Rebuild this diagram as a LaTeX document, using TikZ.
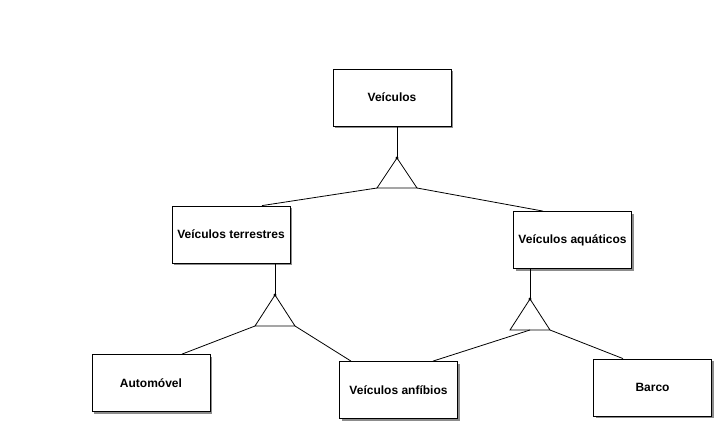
\documentclass[tikz,border=0pt]{standalone}
\usepackage{fontspec}
\setmainfont{Liberation Sans}
\usepackage{tikz}
\usetikzlibrary{calc, shadows}
\tikzset{
  entity/.style={rectangle, draw=black, fill=white, line width=0.8pt, minimum width=118pt, minimum height=57pt, text centered, font=\fontsize{12}{14}\selectfont\bfseries, drop shadow={shadow xshift=2pt, shadow yshift=-2pt, fill=black, opacity=0.45}},
  link/.style={line width=0.8pt}
}
\begin{document}
\begin{tikzpicture}[x=1pt, y=-1pt]
\useasboundingbox (0,0) rectangle (717,423);

% Entities
\node (veic) [entity] at (392,97.5) {Veículos};
\node (terr) [entity] at (231,234.5) {Veículos terrestres};
\node (aqua) [entity] at (572.5,240) {Veículos aquáticos};
\node (auto) [entity] at (151,383) {Automóvel};
\node (anfi) [entity] at (398.5,390) {Veículos anfíbios};
\node (barco) [entity] at (652.5,387.5) {Barco};

% Generalisation triangles
\coordinate (g1) at (397,158);
\coordinate (g1l) at (377,188);
\coordinate (g1r) at (417,188);
\coordinate (g2) at (275,295);
\coordinate (g2l) at (255,326);
\coordinate (g2r) at (295,326);
\coordinate (g3) at (530,299);
\coordinate (g3l) at (510,330);
\coordinate (g3r) at (550,330);
\coordinate (g3m) at (530,330);
\draw [link] (g1) -- (g1r) -- (g1l) -- cycle;
\draw [link] (g2) -- (g2r) -- (g2l) -- cycle;
\draw [link] (g3) -- (g3r) -- (g3l) -- cycle;
\fill (g1) circle (1.6pt);
\fill (g2) circle (1.6pt);
\fill (g3) circle (1.6pt);

% Connections
\draw [link] (g1 |- veic.south) -- (g1);
\draw [link] (g1l) -- ($(terr.north)+(31,0)$);
\draw [link] (g1r) -- ($(aqua.north)+(-29.5,0)$);

\draw [link] (g2 |- terr.south) -- (g2);
\draw [link] (g2l) -- ($(auto.north)+(31,0)$);
\draw [link] (g2r) -- ($(anfi.north)+(-47.5,0)$);

\draw [link] (g3 |- aqua.south) -- (g3);
\draw [link] (g3m) -- ($(anfi.north)+(34.5,0)$);
\draw [link] (g3r) -- ($(barco.north)+(-29.5,0)$);

\end{tikzpicture}
\end{document}
